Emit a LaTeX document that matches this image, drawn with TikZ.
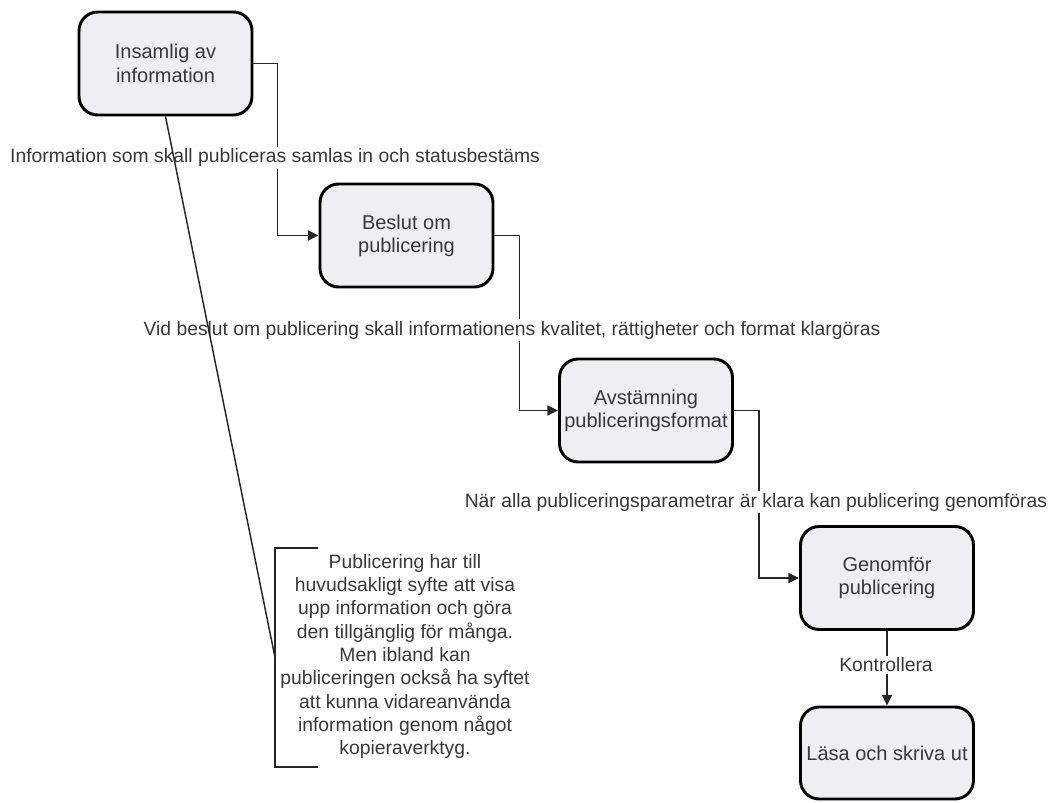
\documentclass[tikz,border=0pt]{standalone}
\usepackage{fontspec}
\setmainfont{Liberation Sans}
\usetikzlibrary{arrows.meta}
\definecolor{boxfill}{HTML}{EEEEF3}
\definecolor{ink}{HTML}{383838}
\definecolor{wire}{HTML}{262626}
\begin{document}
\begin{tikzpicture}[x=0.75pt,y=-0.75pt,
  txt/.style={font=\fontsize{14.5pt}{17.5pt}\selectfont, text=ink},
  stage/.style={font=\fontsize{15pt}{17.5pt}\selectfont, text=ink,
    draw=black, line width=2.2pt, fill=boxfill,
    rounded corners=14pt, minimum width=129.75pt, minimum height=77.25pt,
    align=center, inner sep=0pt},
  link/.style={draw=wire, line width=1.1pt},
  flow/.style={link, -{Triangle[length=8pt,width=7.5pt]}},
  tag/.style={txt, fill=white, inner sep=1.5pt}]
\useasboundingbox (0,0) rectangle (1051,803);

% process steps
\node[stage] (b1) at (165.5,63.5) {Insamlig av\\information};
\node[stage] (b2) at (406.5,235.5) {Beslut om\\publicering};
\node[stage] (b3) at (646,410.5) {Avstämning\\publiceringsformat};
\node[stage] (b4) at (887,578) {Genomför\\publicering};
\node[stage, minimum height=69pt] (b5) at (887,753) {Läsa och skriva ut};

% step-to-step flow
\draw[flow] (b1.east) -- ++(24,0) |- (b2.west);
\draw[flow] (b2.east) -- ++(25,0) |- (b3.west);
\draw[flow] (b3.east) -- ++(25,0) |- (b4.west);
\draw[flow] (b4.south) -- (b5.north);

% flow captions
\node[tag] (t1) at (275,158) {Information som skall publiceras samlas in och statusbestäms};
\node[tag] (t2) at (512,330) {Vid beslut om publicering skall informationens kvalitet, rättigheter och format klargöras};
\node[tag] (t3) at (756,502) {När alla publiceringsparametrar är klara kan publicering genomföras};
\node[tag] (t4) at (886,665) {Kontrollera};

% annotation with bracket
\coordinate (bt) at (318,548);
\coordinate (btl) at (275,548);
\coordinate (bm) at (275,657.5);
\coordinate (bbl) at (275,767);
\coordinate (bb) at (318,767);
\draw[link] (bt) -- (btl) -- (bbl) -- (bb);
\draw[link] (b1.south) -- (bm);
\node[txt, align=center, inner sep=0pt] (ann) at (405,656.5)
  {Publicering har till\\huvudsakligt syfte att visa\\upp information och göra\\den tillgänglig för många.\\Men ibland kan\\publiceringen också ha syftet\\att kunna vidareanvända\\information genom något\\kopieraverktyg.};
\end{tikzpicture}
\end{document}
